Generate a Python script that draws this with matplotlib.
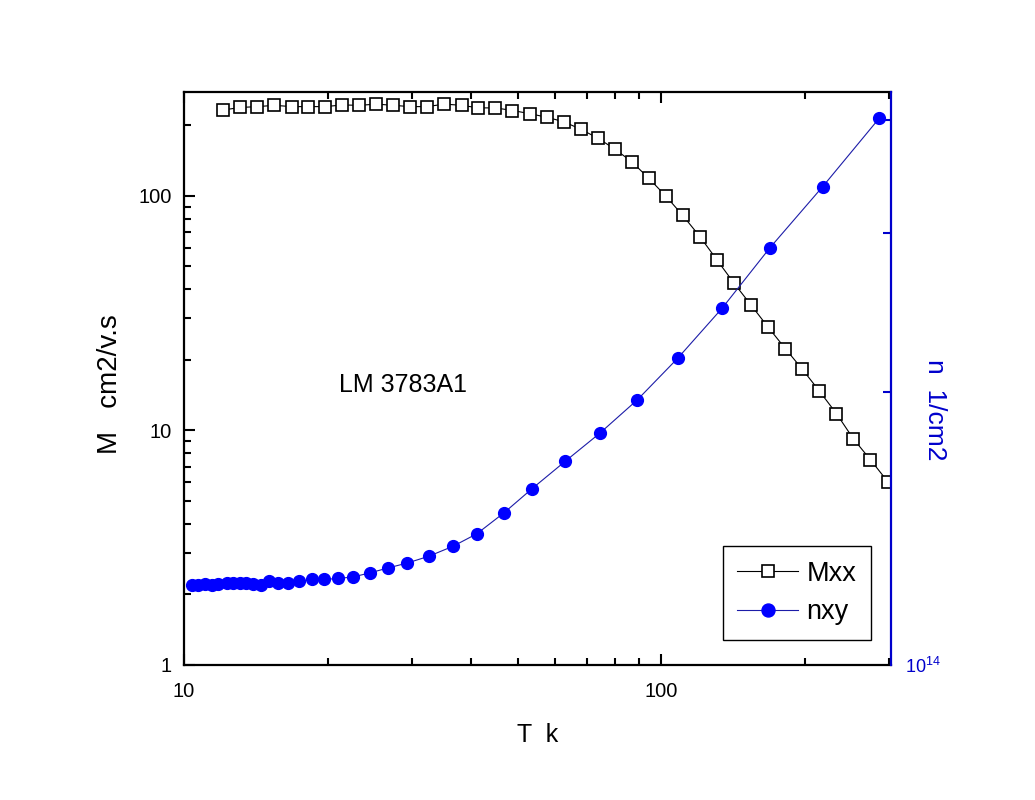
import matplotlib
matplotlib.use('Agg')
import matplotlib.pyplot as plt
import matplotlib.ticker as ticker

plt.rcParams['font.family'] = ['Liberation Sans', 'DejaVu Sans']
plt.rcParams['mathtext.fontset'] = 'custom'
plt.rcParams['mathtext.rm'] = 'Liberation Sans'
plt.rcParams['mathtext.it'] = 'Liberation Sans'

# mobility (left axis)
t_mxx = [12.05, 13.12, 14.25, 15.47, 16.82, 18.2, 19.78, 21.47, 23.31, 25.3,
         27.47, 29.77, 32.32, 35.13, 38.2, 41.4, 44.94, 48.78, 53.05, 57.61,
         62.45, 67.88, 73.68, 79.98, 86.64, 94.06, 102.1, 110.8, 120.5, 130.9,
         142.2, 153.9, 167.1, 182.0, 197.6, 214.5, 232.8, 252.7, 274.3, 298.2]
mxx = [232, 238, 240, 243, 240, 240, 240, 244, 243, 246,
       243, 240, 240, 246, 243, 237, 237, 231, 224, 216,
       207, 192, 176, 158, 140, 119, 100, 82.7, 67, 53.2,
       42.3, 34.4, 27.7, 22.3, 18.2, 14.7, 11.8, 9.2, 7.5, 6.05]

# carrier density (right axis)
t_nxy = [10.38, 10.71, 11.07, 11.43, 11.8, 12.29, 12.69, 13.1, 13.49, 13.93,
         14.5, 15.1, 15.77, 16.55, 17.45, 18.52, 19.66, 21.06, 22.64, 24.54,
         26.81, 29.38, 32.53, 36.59, 41.09, 46.88, 53.66, 62.9, 74.4, 89.1,
         108.2, 134.1, 168.7, 217.9, 286.0]
nxy = [1.224e14, 1.227e14, 1.230e14, 1.227e14, 1.230e14, 1.233e14, 1.233e14, 1.233e14, 1.233e14, 1.230e14,
       1.224e14, 1.237e14, 1.233e14, 1.233e14, 1.237e14, 1.243e14, 1.243e14, 1.246e14, 1.251e14, 1.264e14,
       1.280e14, 1.296e14, 1.318e14, 1.352e14, 1.396e14, 1.473e14, 1.566e14, 1.678e14, 1.803e14, 1.962e14,
       2.180e14, 2.476e14, 2.885e14, 3.373e14, 4.011e14]

fig = plt.figure(figsize=(10.35, 8.0), dpi=100)
ax = fig.add_axes([0.1778, 0.16875, 0.6831, 0.71625])
ax2 = ax.twinx()

l1, = ax.plot(t_mxx, mxx, color='black', lw=0.8, marker='s', ms=8,
              mfc='white', mec='black', mew=1.2, label='Mxx')
l2, = ax2.plot(t_nxy, nxy, color='#1c1ca8', lw=0.8, marker='o', ms=8.5,
               mfc='#0000ff', mec='#0000ff', label='nxy')

ax.set_xscale('log')
ax.set_yscale('log')
ax2.set_yscale('log')
ax.set_xlim(10, 303)
ax.set_ylim(1, 277)
ax2.set_ylim(1e14, 4.29e14)

fmt = ticker.FuncFormatter(lambda v, p: f'{v:g}')
ax.xaxis.set_major_formatter(fmt)
ax.yaxis.set_major_formatter(fmt)
ax.xaxis.set_minor_formatter(ticker.NullFormatter())
ax.yaxis.set_minor_formatter(ticker.NullFormatter())
ax.xaxis.set_minor_locator(ticker.LogLocator(base=10, subs=range(2, 10)))
ax.yaxis.set_minor_locator(ticker.LogLocator(base=10, subs=range(2, 10)))

ax2.yaxis.set_major_locator(ticker.FixedLocator([1e14]))
ax2.yaxis.set_major_formatter(ticker.FixedFormatter([r'$10^{14}$']))
ax2.yaxis.set_minor_locator(ticker.FixedLocator([2e14, 3e14, 4e14]))
ax2.yaxis.set_minor_formatter(ticker.NullFormatter())

for s in ['left', 'bottom', 'top']:
    ax.spines[s].set_linewidth(1.6)
ax.spines['right'].set_visible(False)
for s in ['left', 'bottom', 'top']:
    ax2.spines[s].set_visible(False)
ax2.spines['right'].set_color('#0000cc')
ax2.spines['right'].set_linewidth(1.6)

ax.tick_params(which='both', direction='in', top=True, right=False,
               width=1.5, labelsize=14.5, pad=9)
ax.tick_params(which='major', length=8)
ax.tick_params(which='minor', length=5)
ax.tick_params(axis='x', pad=12)
ax2.tick_params(which='both', direction='in', colors='#0000cc', width=1.5,
                labelsize=13, pad=10)
ax2.tick_params(which='major', length=0)
ax2.tick_params(which='minor', length=6)

ax.set_xlabel('T  k', fontsize=18, va='center')
ax.xaxis.set_label_coords(0.5, -0.122)
ax.set_ylabel('M   cm2/v.s', fontsize=20, va='center')
ax.yaxis.set_label_coords(-0.105, 0.49)
ax2.set_ylabel('n  1/cm2', fontsize=19, color='#0000cc', rotation=270, va='center')
ax2.yaxis.set_label_coords(1.062, 0.445)

ax.text(0.31, 0.489, 'LM 3783A1', transform=ax.transAxes, fontsize=18,
        ha='center', va='center')

leg = ax2.legend([l1, l2], ['Mxx', 'nxy'], loc='lower right',
                 bbox_to_anchor=(0.972, 0.0436), borderaxespad=0,
                 fontsize=19.5, fancybox=False, framealpha=1,
                 edgecolor='black', handlelength=2.25, handletextpad=0.3,
                 borderpad=0.55, labelspacing=0.45, markerscale=1.1)
leg.get_frame().set_linewidth(1.0)

fig.savefig('out.png', dpi=100)
